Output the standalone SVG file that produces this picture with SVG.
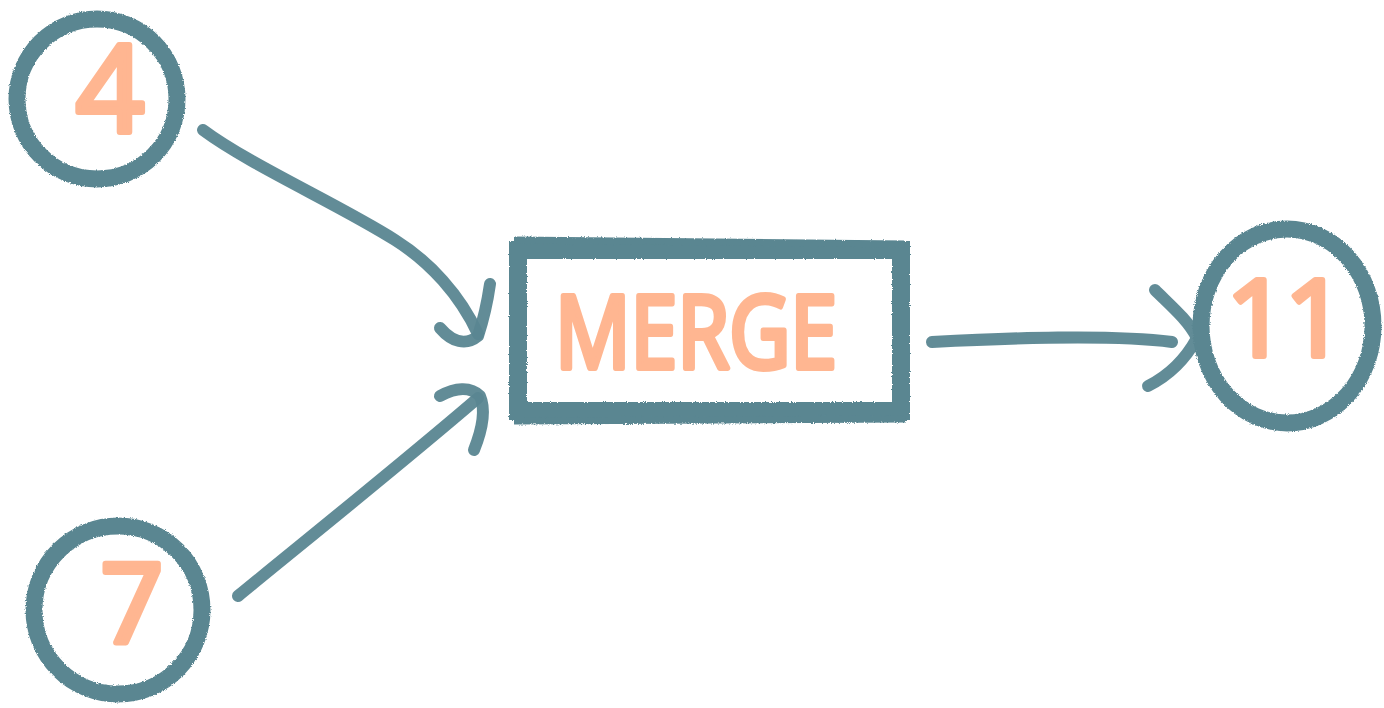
<svg xmlns="http://www.w3.org/2000/svg" width="1384" height="708" viewBox="0 0 1384 708">
  <defs>
    <filter id="rough" x="-10%" y="-10%" width="120%" height="120%">
      <feTurbulence type="fractalNoise" baseFrequency="0.9" numOctaves="2" seed="3" result="n"/>
      <feDisplacementMap in="SourceGraphic" in2="n" scale="3" xChannelSelector="R" yChannelSelector="G"/>
    </filter>
  </defs>
  <style>
    .ring { fill: none; stroke: #5A8691; stroke-width: 17; filter: url(#rough); }
    .box { fill: none; stroke: #5A8691; filter: url(#rough); }
    .edge { fill: none; stroke: #5A8691; stroke-width: 12; stroke-linecap: round; stroke-linejoin: round; opacity: 0.95; }
    .lbl { font-family: "Open Sans", "DejaVu Sans", sans-serif; font-weight: 400; fill: #FFA77A; stroke: #FFA77A; stroke-width: 6; stroke-linejoin: round; stroke-linecap: round; opacity: 0.82; text-anchor: middle; }
  </style>
  <rect width="1384" height="708" fill="#FFFFFF"/>

  <g id="connectors">
    <!-- 4 -> MERGE -->
    <path class="edge" d="M 203 130 C 250 165, 340 205, 395 240 C 430 262, 460 295, 478 334"/>
    <path class="edge" d="M 440 328 C 452 342, 466 346, 478 336 C 484 318, 488 298, 490 284"/>
    <!-- 7 -> MERGE -->
    <path class="edge" d="M 238 596 C 300 545, 400 465, 478 398"/>
    <path class="edge" d="M 440 396 C 455 388, 470 386, 480 396 C 486 410, 482 430, 474 450"/>
    <!-- MERGE -> 11 -->
    <path class="edge" d="M 932 342 C 1010 338, 1110 334, 1172 342"/>
    <path class="edge" d="M 1155 290 C 1170 305, 1188 320, 1197 338 C 1185 360, 1170 375, 1148 386"/>
  </g>

  <g id="node-4">
    <circle class="ring" cx="97" cy="99" r="80"/>
    <text class="lbl" x="110" y="132" font-size="120">4</text>
  </g>

  <g id="node-7">
    <circle class="ring" cx="118" cy="610" r="84"/>
    <text class="lbl" x="132" y="642" font-size="110">7</text>
  </g>

  <g id="node-merge">
    <path class="box" stroke-width="18" d="M 518 250 L 901 250 L 901 411 L 518 411 Z"/>
    <path class="box" stroke-width="7" d="M 514 240 L 905 244 M 514 421 L 906 419"/>
    <text class="lbl" x="696" y="368" font-size="100" textLength="282" lengthAdjust="spacingAndGlyphs">MERGE</text>
  </g>

  <g id="node-11">
    <ellipse class="ring" cx="1287" cy="326" rx="86" ry="97"/>
    <text class="lbl" x="1285" y="356" font-size="106" letter-spacing="-2">11</text>
  </g>
</svg>
